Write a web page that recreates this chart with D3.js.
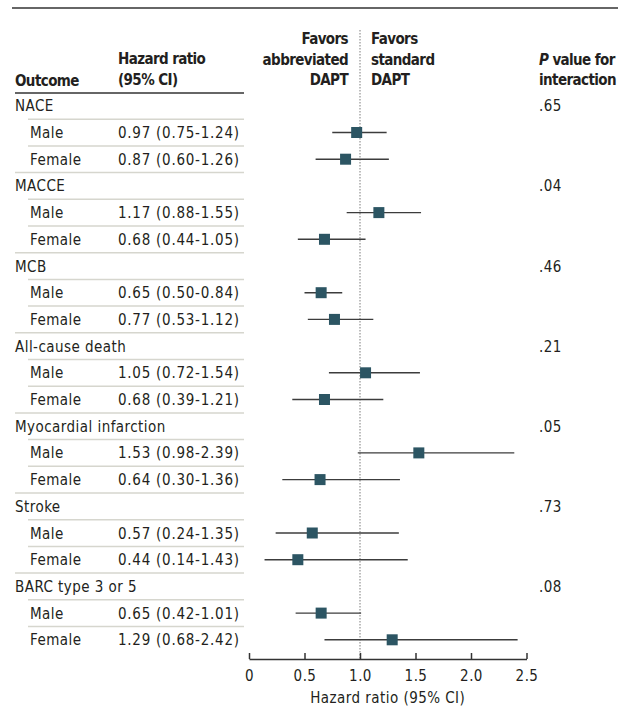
<!DOCTYPE html>
<html>
<head>
<meta charset="utf-8">
<script src="https://cdn.jsdelivr.net/npm/d3@7"></script>
<style>
  html, body { margin: 0; padding: 0; background: #fff; }
  svg text { font-family: "DejaVu Sans Condensed", "DejaVu Sans", sans-serif; font-stretch: condensed; fill: #231f20; }
  svg text.b { font-weight: bold; letter-spacing: -0.6px; }
  svg text.r { letter-spacing: 0.45px; }
</style>
</head>
<body>
<svg id="chart" width="618" height="708"></svg>
<script>
const outcomes = ["NACE", "MACCE", "MCB", "All-cause death", "Myocardial infarction", "Stroke", "BARC type 3 or 5"];
const pValues = [".65", ".04", ".46", ".21", ".05", ".73", ".08"];
const sexes = ["Male", "Female"];
const maleHR = [0.97, 1.17, 0.65, 1.05, 1.53, 0.57, 0.65];
const maleLow = [0.75, 0.88, 0.50, 0.72, 0.98, 0.24, 0.42];
const maleHigh = [1.24, 1.55, 0.84, 1.54, 2.39, 1.35, 1.01];
const femaleHR = [0.87, 0.68, 0.77, 0.68, 0.64, 0.44, 1.29];
const femaleLow = [0.60, 0.44, 0.53, 0.39, 0.30, 0.14, 0.68];
const femaleHigh = [1.26, 1.05, 1.12, 1.21, 1.36, 1.43, 2.42];
const xTicks = [0, 0.5, 1.0, 1.5, 2.0, 2.5];
const xTickLabels = ["0", "0.5", "1.0", "1.5", "2.0", "2.5"];

// Build row table
const rows = [];
outcomes.forEach((o, i) => {
  rows.push({ type: "group", label: o, p: pValues[i] });
  rows.push({ type: "sub", label: sexes[0], hr: maleHR[i], lo: maleLow[i], hi: maleHigh[i] });
  rows.push({ type: "sub", label: sexes[1], hr: femaleHR[i], lo: femaleLow[i], hi: femaleHigh[i] });
});

const svg = d3.select("#chart");
const fmt = d3.format(".2f");

const x = d3.scaleLinear().domain([0, 2.5]).range([249, 526.5]);
const y = d3.scaleLinear().domain([0, rows.length - 1]).range([105.8, 639.8]);
const axisY = 659;
const fs = 15;

// Top rule
svg.append("line").attr("x1", 12).attr("x2", 618).attr("y1", 8).attr("y2", 8)
  .attr("stroke", "#333").attr("stroke-width", 1.5);

// Headers
svg.append("text").attr("class", "b").attr("x", 15).attr("y", 86).attr("font-size", fs).text("Outcome");
svg.append("text").attr("class", "b").attr("x", 118).attr("y", 64).attr("font-size", fs).text("Hazard ratio");
svg.append("text").attr("class", "b").attr("x", 118).attr("y", 85).attr("font-size", fs).text("(95% CI)");

["Favors", "abbreviated", "DAPT"].forEach((t, i) => {
  svg.append("text").attr("class", "b").attr("x", 348).attr("y", 44 + i * 20.5).attr("text-anchor", "end")
    .attr("font-size", fs).text(t);
});
["Favors", "standard", "DAPT"].forEach((t, i) => {
  svg.append("text").attr("class", "b").attr("x", 371).attr("y", 44 + i * 20.5)
    .attr("font-size", fs).text(t);
});
const pHead = svg.append("text").attr("class", "b").attr("x", 539).attr("y", 64.5).attr("font-size", fs);
pHead.append("tspan").attr("font-style", "italic").text("P");
pHead.append("tspan").text(" value for");
svg.append("text").attr("class", "b").attr("x", 539).attr("y", 85).attr("font-size", fs).text("interaction");

// Header rule
svg.append("line").attr("x1", 15).attr("x2", 244).attr("y1", 93).attr("y2", 93)
  .attr("stroke", "#333").attr("stroke-width", 1.5);

// Separators
rows.forEach((r, i) => {
  if (i === rows.length - 1) return;
  const next = rows[i + 1];
  const yy = y(i) + 13.4;
  svg.append("line").attr("x1", next.type === "sub" ? 28 : 15).attr("x2", 244)
    .attr("y1", yy).attr("y2", yy).attr("stroke", "#d6d6ce").attr("stroke-width", 1.5);
});

// Row labels
rows.forEach((r, i) => {
  const base = y(i) + 5.5;
  svg.append("text").attr("class", "r").attr("x", r.type === "group" ? 15 : 30).attr("y", base)
    .attr("font-size", fs).text(r.label);
  if (r.type === "sub") {
    svg.append("text").attr("x", 118).attr("y", base).attr("font-size", fs)
      .attr("letter-spacing", "0.75px")
      .text(`${fmt(r.hr)} (${fmt(r.lo)}-${fmt(r.hi)})`);
  } else {
    svg.append("text").attr("class", "r").attr("x", 539).attr("y", base).attr("font-size", fs).text(r.p);
  }
});

// Reference line
svg.append("line").attr("x1", x(1)).attr("x2", x(1)).attr("y1", 30).attr("y2", axisY)
  .attr("stroke", "#9a9a9a").attr("stroke-width", 1.3).attr("stroke-dasharray", "1.5,1.5");

// CI lines and squares
const subs = rows.map((r, i) => ({ ...r, i })).filter(r => r.type === "sub");
svg.append("g").selectAll("line").data(subs).join("line")
  .attr("x1", d => x(d.lo)).attr("x2", d => x(d.hi))
  .attr("y1", d => y(d.i)).attr("y2", d => y(d.i))
  .attr("stroke", "#3c3c3c").attr("stroke-width", 1.4);
const sq = 11;
svg.append("g").selectAll("rect").data(subs).join("rect")
  .attr("x", d => x(d.hr) - sq / 2).attr("y", d => y(d.i) - sq / 2)
  .attr("width", sq).attr("height", sq).attr("fill", "#2c5563");

// Axis
const axis = d3.axisBottom(x).tickValues(xTicks).tickFormat((d, i) => xTickLabels[i])
  .tickSizeInner(-6).tickSizeOuter(0).tickPadding(11);
const gAxis = svg.append("g").attr("transform", `translate(0,${axisY})`).call(axis);
gAxis.select(".domain").attr("stroke", "#333").attr("stroke-width", 1.5);
gAxis.selectAll(".tick line").attr("stroke", "#333").attr("stroke-width", 1.5);
gAxis.selectAll(".tick text").attr("font-size", fs).attr("fill", "#231f20")
  .attr("font-family", "DejaVu Sans Condensed, DejaVu Sans, sans-serif").attr("letter-spacing", "0.45px");

svg.append("text").attr("class", "r").attr("x", (x(0) + x(2.5)) / 2).attr("y", 703).attr("text-anchor", "middle")
  .attr("font-size", fs).text("Hazard ratio (95% CI)");
</script>
</body>
</html>
